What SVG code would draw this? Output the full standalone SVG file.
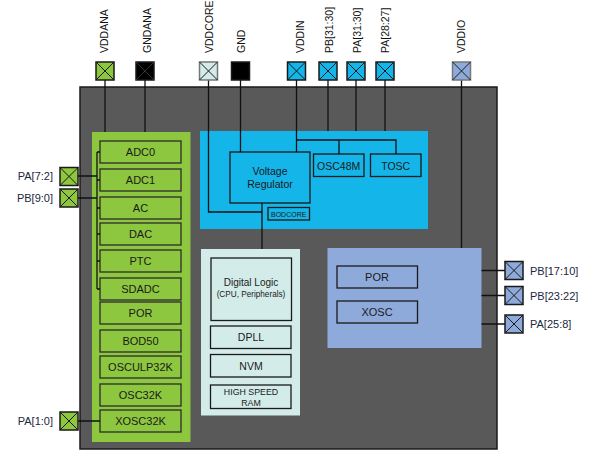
<svg xmlns="http://www.w3.org/2000/svg" width="599" height="469" viewBox="0 0 599 469">
<style>
text{font-family:"Liberation Sans",Arial,sans-serif;fill:#1a1a1a}
.lbl{font-size:11px;fill:#1c2740}
.rl{font-size:10.5px;fill:#111}
.bx{font-size:11px;text-anchor:middle}
.bs{font-size:10.5px;text-anchor:middle}
.sm{font-size:8.2px;text-anchor:middle}
.gbox{fill:#8dc63f;stroke:#2b2b2b;stroke-width:1.3}
.cbox{fill:#14b5e8;stroke:#1a1a1a;stroke-width:1.3}
.mbox{fill:#d4ece9;stroke:#1a1a1a;stroke-width:1.3}
.lbbox{fill:#8eaadb;stroke:#1a1a1a;stroke-width:1.3}
.pin{stroke:#1a1a1a;stroke-width:1.5}
.x{stroke:#1a1a1a;stroke-width:1}
.wire{stroke:#111;stroke-width:1.3;fill:none}
</style>
<defs>
<g id="xx"><path class="x" d="M0,0L18,18M18,0L0,18"/></g>
</defs>
<g id="chip">
<rect x="80" y="87" width="417" height="362" fill="#595959" stroke="#1a1a1a" stroke-width="1.5"/>
</g>
<g id="analog">
<rect x="92" y="132" width="98.5" height="310" fill="#8dc63f"/>
</g>
<g id="adc0"><rect class="gbox" x="100" y="141" width="81" height="22"/><text class="bx" x="140.5" y="156">ADC0</text></g>
<g id="adc1"><rect class="gbox" x="100" y="169" width="81" height="22"/><text class="bx" x="140.5" y="184">ADC1</text></g>
<g id="ac"><rect class="gbox" x="100" y="197" width="81" height="22"/><text class="bx" x="140.5" y="212">AC</text></g>
<g id="dac"><rect class="gbox" x="100" y="223" width="81" height="22"/><text class="bx" x="140.5" y="238">DAC</text></g>
<g id="ptc"><rect class="gbox" x="100" y="250" width="81" height="22"/><text class="bx" x="140.5" y="265">PTC</text></g>
<g id="sdadc"><rect class="gbox" x="100" y="278" width="81" height="22"/><text class="bx" x="140.5" y="293">SDADC</text></g>
<g id="por1"><rect class="gbox" x="100" y="302" width="81" height="22"/><text class="bx" x="140.5" y="317">POR</text></g>
<g id="bod50"><rect class="gbox" x="100" y="330" width="81" height="22"/><text class="bx" x="140.5" y="345">BOD50</text></g>
<g id="osculp"><rect class="gbox" x="100" y="356" width="81" height="22"/><text class="bx" x="140.5" y="371">OSCULP32K</text></g>
<g id="osc32k"><rect class="gbox" x="100" y="384" width="81" height="22"/><text class="bx" x="140.5" y="399">OSC32K</text></g>
<g id="xosc32k"><rect class="gbox" x="100" y="410" width="81" height="22"/><text class="bx" x="140.5" y="425">XOSC32K</text></g>

<g id="core">
<rect x="200" y="131" width="228" height="98" fill="#14b5e8"/>
</g>
<g id="vreg"><rect class="cbox" x="230" y="152" width="80" height="51"/><text class="bs" x="270" y="174.5">Voltage</text><text class="bs" x="270" y="188">Regulator</text></g>
<g id="osc48m"><rect class="cbox" x="313.5" y="154" width="50.5" height="22.5"/><text class="bs" x="338.7" y="169.5">OSC48M</text></g>
<g id="tosc"><rect class="cbox" x="370.5" y="154" width="50.5" height="22.5"/><text class="bs" x="395.7" y="169.5">TOSC</text></g>
<g id="bodcore"><rect class="cbox" x="268" y="207.5" width="41.5" height="12.5"/><text x="288.7" y="216.5" style="font-size:7px;text-anchor:middle">BODCORE</text></g>

<g id="digital">
<rect x="201" y="249" width="99" height="166.5" fill="#d4ece9"/>
</g>
<g id="diglogic"><rect class="mbox" x="211" y="258" width="80.5" height="62.5"/><text class="bs" x="251" y="285.5" style="font-size:10px">Digital Logic</text><text class="sm" x="251" y="297">(CPU, Peripherals)</text></g>
<g id="dpll"><rect class="mbox" x="210.5" y="326" width="80.5" height="22.5" stroke="#444"/><text class="bs" x="251" y="341">DPLL</text></g>
<g id="nvm"><rect class="mbox" x="210.5" y="354.5" width="80.5" height="22.5"/><text class="bs" x="251" y="369.5">NVM</text></g>
<g id="hsram"><rect class="mbox" x="210.5" y="385" width="80.5" height="23.5"/><text class="sm" x="251" y="394.5" style="font-size:8.8px">HIGH SPEED</text><text class="sm" x="251" y="406" style="font-size:8.8px">RAM</text></g>

<g id="io">
<rect x="327.5" y="248" width="154" height="100" fill="#8eaadb"/>
</g>
<g id="por2"><rect class="lbbox" x="337" y="266" width="80.5" height="22"/><text class="bx" x="377" y="281">POR</text></g>
<g id="xosc"><rect class="lbbox" x="337" y="301" width="80.5" height="22"/><text class="bx" x="377" y="316">XOSC</text></g>

<g id="connectors">
<path class="wire" d="M105,80V132M145,80V132"/>
<path class="wire" d="M208.5,80V212H262M262,203V249"/>
<path class="wire" d="M240.5,80V152"/>
<path class="wire" d="M296.5,80V152M296.5,140H396V154M339,140V154"/>
<path class="wire" d="M328,80V131M356,80V131M385,80V131"/>
<path class="wire" d="M461.5,80V248"/>
<path class="wire" d="M97,152V289M97,152H100M97,180H100M97,208H100M97,234H100M97,261H100M97,289H100"/>
<path class="wire" d="M78,176H97M78,198H97M78,421H100"/>
<path class="wire" d="M481.5,270.5H505M481.5,295.5H505M481.5,324H505"/>
</g>

<g id="pin-vddana"><rect class="pin" x="96" y="62" width="18" height="18" fill="#8dc63f"/><use href="#xx" x="96" y="62"/><text class="rl" transform="translate(108,53) rotate(-90)">VDDANA</text></g>
<g id="pin-gndana"><rect class="pin" x="136" y="62" width="18" height="18" fill="#000"/><path d="M136,62l18,18M154,62l-18,18" stroke="#333" stroke-width="1"/><text class="rl" transform="translate(150.5,53) rotate(-90)">GNDANA</text></g>
<g id="pin-vddcore"><rect x="199.5" y="62" width="18" height="18" fill="#d4ece9" stroke="#777" stroke-width="1.5"/><use href="#xx" x="199.5" y="62"/><text class="rl" transform="translate(213,53) rotate(-90)">VDDCORE</text></g>
<g id="pin-gnd"><rect class="pin" x="231.5" y="62" width="18" height="18" fill="#000"/><text class="rl" transform="translate(245,53) rotate(-90)">GND</text></g>
<g id="pin-vddin"><rect class="pin" x="287.5" y="62" width="18" height="18" fill="#14b5e8"/><use href="#xx" x="287.5" y="62"/><text class="rl" transform="translate(304,53) rotate(-90)">VDDIN</text></g>
<g id="pin-pb3130"><rect class="pin" x="319" y="62" width="18" height="18" fill="#14b5e8"/><use href="#xx" x="319" y="62"/><text class="rl" transform="translate(333,53) rotate(-90)">PB[31:30]</text></g>
<g id="pin-pa3130"><rect class="pin" x="347" y="62" width="18" height="18" fill="#14b5e8"/><use href="#xx" x="347" y="62"/><text class="rl" transform="translate(361,53) rotate(-90)">PA[31:30]</text></g>
<g id="pin-pa2827"><rect class="pin" x="376" y="62" width="18" height="18" fill="#14b5e8"/><use href="#xx" x="376" y="62"/><text class="rl" transform="translate(388.5,53) rotate(-90)">PA[28:27]</text></g>
<g id="pin-vddio"><rect x="452.5" y="62" width="18" height="18" fill="#8eaadb" stroke="#777" stroke-width="1.5"/><use href="#xx" x="452.5" y="62"/><text class="rl" transform="translate(465,53) rotate(-90)">VDDIO</text></g>

<g id="pin-pa72"><rect class="pin" x="60" y="167.5" width="18" height="18" fill="#8dc63f"/><use href="#xx" x="60" y="167.5"/><text class="lbl" x="53" y="180" text-anchor="end">PA[7:2]</text></g>
<g id="pin-pb90"><rect class="pin" x="60" y="189" width="18" height="18" fill="#8dc63f"/><use href="#xx" x="60" y="189"/><text class="lbl" x="53" y="202" text-anchor="end">PB[9:0]</text></g>
<g id="pin-pa10"><rect class="pin" x="60" y="412" width="18" height="18" fill="#8dc63f"/><use href="#xx" x="60" y="412"/><text class="lbl" x="53" y="425" text-anchor="end">PA[1:0]</text></g>

<g id="pin-pb1710"><rect class="pin" x="505" y="261.5" width="18" height="18" fill="#8eaadb" stroke="#555"/><use href="#xx" x="505" y="261.5"/><text class="lbl" x="530" y="274.5">PB[17:10]</text></g>
<g id="pin-pb2322"><rect class="pin" x="505" y="286.5" width="18" height="18" fill="#8eaadb" stroke="#555"/><use href="#xx" x="505" y="286.5"/><text class="lbl" x="530" y="299.5">PB[23:22]</text></g>
<g id="pin-pa258"><rect class="pin" x="505" y="315" width="18" height="18" fill="#8eaadb" stroke="#555"/><use href="#xx" x="505" y="315"/><text class="lbl" x="530" y="328">PA[25:8]</text></g>
</svg>
